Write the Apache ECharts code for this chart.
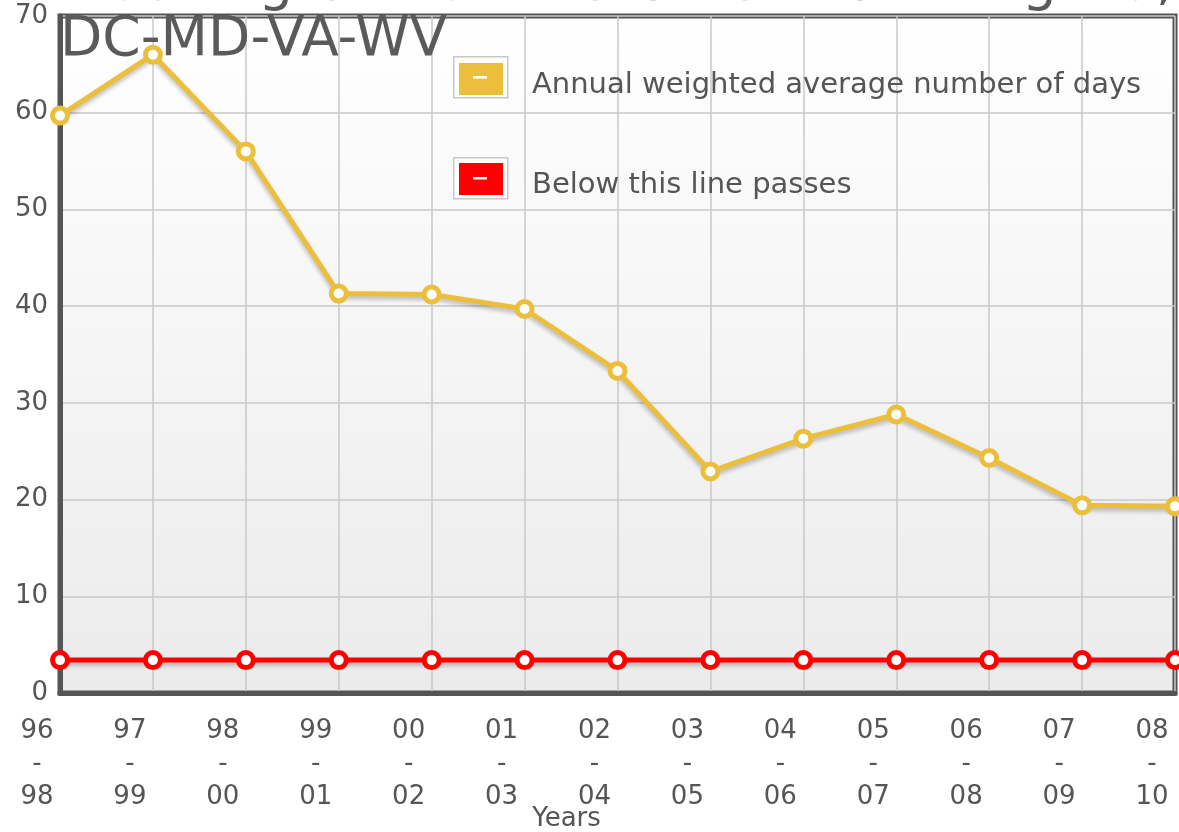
<!DOCTYPE html>
<html>
<head>
<meta charset="utf-8">
<title>Annual weighted average number of days</title>
<script src="https://cdn.jsdelivr.net/npm/echarts@6/dist/echarts.min.js"></script>
<style>
  html, body { margin: 0; padding: 0; background: #fff; }
  #chart { width: 1179px; height: 832px; }
</style>
</head>
<body>
<div id="chart"></div>
<script>
// data
const years = ['96\n-\n98', '97\n-\n99', '98\n-\n00', '99\n-\n01', '00\n-\n02', '01\n-\n03',
  '02\n-\n04', '03\n-\n05', '04\n-\n06', '05\n-\n07', '06\n-\n08', '07\n-\n09', '08\n-\n10']
const avgDays = [59.7, 66.0, 56.0, 41.3, 41.2, 39.7, 33.3, 22.9, 26.3, 28.8, 24.3, 19.4, 19.3]
const passLine = [3.4, 3.4, 3.4, 3.4, 3.4, 3.4, 3.4, 3.4, 3.4, 3.4, 3.4, 3.4, 3.4]
const yTicks = { min: 0, max: 70, interval: 10 }

const FONT = 'DejaVu Sans'
const TEXT = '#555'
const YELLOW = '#ebbf3c'
const RED = '#ff0000'
const FRAME = '#555'

const chart = echarts.init(document.getElementById('chart'))

// legend frames + white dash, drawn around the legend swatches
const legendBox = (y) => [
  { type: 'rect', left: 453, top: y, z: 1,
    shape: { width: 54, height: 41 },
    style: { fill: '#fff', stroke: '#c8c8c8', lineWidth: 1.5 } },
  { type: 'rect', left: 473, top: y + 20, z: 100,
    shape: { width: 14, height: 2.5 },
    style: { fill: '#fff' } }
]

const lineSeries = (name, data, color) => ({
  name,
  type: 'line',
  data,
  symbol: 'circle',
  symbolSize: 15,
  z: 5,
  itemStyle: { color: '#fff', borderColor: color, borderWidth: 5 },
  lineStyle: {
    color, width: 5,
    shadowColor: 'rgba(0,0,0,0.25)', shadowBlur: 4, shadowOffsetY: 3
  },
  emphasis: { disabled: true },
  animation: false
})

chart.setOption({
  backgroundColor: '#fff',
  textStyle: { fontFamily: FONT },
  title: {
    text: 'Washington-Baltimore-Northern Virginia,\nDC-MD-VA-WV',
    left: 60,
    top: -43.5,
    padding: 0,
    textStyle: { fontFamily: FONT, fontSize: 55, fontWeight: 'normal', color: '#5a5a5a', lineHeight: 56 }
  },
  legend: {
    orient: 'vertical',
    left: 459,
    top: 58,
    padding: 0,
    icon: 'rect',
    itemWidth: 42,
    itemHeight: 30,
    itemGap: 58,
    selectedMode: false,
    formatter: (name) => '{t|' + name + '}',
    textStyle: {
      fontFamily: FONT, color: TEXT,
      rich: { t: { fontFamily: FONT, fontSize: 29, lineHeight: 30, color: TEXT, padding: [13, 0, 0, 25] } }
    },
    data: [
      { name: 'Annual weighted average number of days', itemStyle: { color: YELLOW } },
      { name: 'Below this line passes', itemStyle: { color: RED } }
    ]
  },
  graphic: [...legendBox(56), ...legendBox(157)],
  grid: {
    left: 60, right: 4, top: 16, bottom: 139,
    outerBoundsMode: 'none',
    show: true,
    borderColor: FRAME,
    borderWidth: 5,
    backgroundColor: new echarts.graphic.LinearGradient(0, 0, 0, 1, [
      { offset: 0, color: '#ffffff' },
      { offset: 1, color: '#ebebeb' }
    ])
  },
  xAxis: {
    type: 'category',
    data: years,
    boundaryGap: false,
    name: 'Years',
    nameLocation: 'middle',
    nameGap: 113,
    nameMoveOverlap: false,
    nameTextStyle: { fontFamily: FONT, fontSize: 26, color: TEXT, padding: [0, 102, 0, 0] },
    axisLine: { show: true, lineStyle: { color: FRAME, width: 5 } },
    axisTick: { show: false },
    axisLabel: { fontFamily: FONT, fontSize: 26, color: TEXT, lineHeight: 33, margin: 22, padding: [0, 46, 0, 0] },
    splitLine: { show: true, lineStyle: { color: '#c9c9c9', width: 1.5 } }
  },
  yAxis: {
    type: 'value',
    min: yTicks.min,
    max: yTicks.max,
    interval: yTicks.interval,
    axisLine: { show: true, lineStyle: { color: FRAME, width: 5 } },
    axisTick: { show: false },
    axisLabel: { fontFamily: FONT, fontSize: 26, color: TEXT, margin: 12 },
    splitLine: { show: true, lineStyle: { color: '#c9c9c9', width: 1.5 } }
  },
  series: [
    lineSeries('Annual weighted average number of days', avgDays, YELLOW),
    lineSeries('Below this line passes', passLine, RED)
  ]
})
</script>
</body>
</html>
